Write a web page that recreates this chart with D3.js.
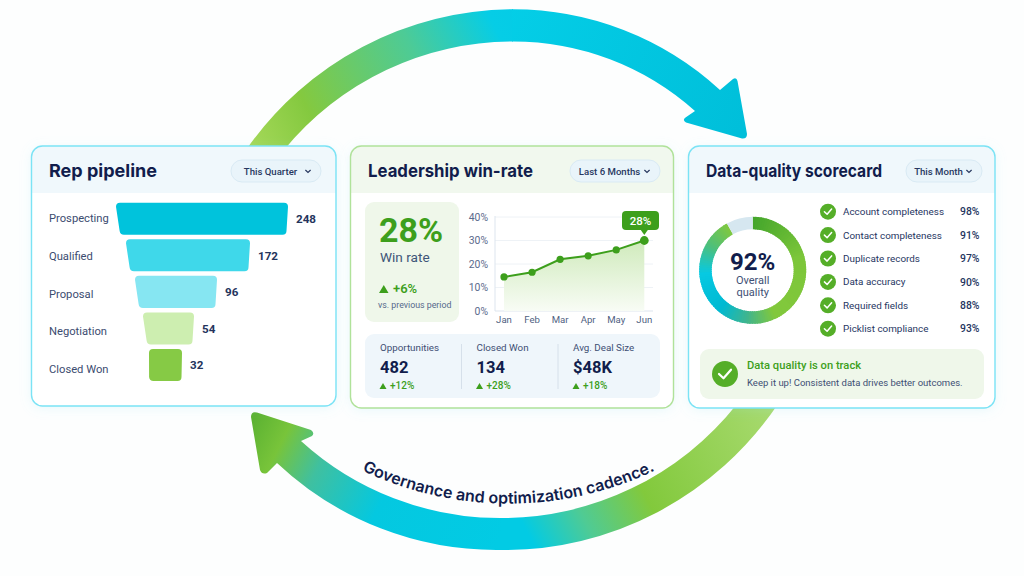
<!DOCTYPE html>
<html><head><meta charset="utf-8">
<script src="https://cdn.jsdelivr.net/npm/d3@7"></script>
<style>
html,body{margin:0;padding:0;background:#fdfefe;overflow:hidden}
text{font-family:Roboto,"Noto Sans",sans-serif}
text.inter,text.inter textPath{font-family:Inter,"Noto Sans",sans-serif}
</style></head><body>
<svg id="c" width="1024" height="576" viewBox="0 0 1024 576"></svg>
<script>
// ---- data ----
const stages = ["Prospecting","Qualified","Proposal","Negotiation","Closed Won"];
const stageValues = [248,172,96,54,32];
const stageColors = ["#00c3dc","#3fd8ea","#86e6f2","#cdeeb0","#86ca45"];
const months = ["Jan","Feb","Mar","Apr","May","Jun"];
const winRate = [14.5,16.5,22,23.5,26,30];
const winTicks = [0,10,20,30,40];
const statLabels = ["Opportunities","Closed Won","Avg. Deal Size"];
const statValues = ["482","134","$48K"];
const statDeltas = ["+12%","+28%","+18%"];
const qualityLabels = ["Account completeness","Contact completeness","Duplicate records","Data accuracy","Required fields","Picklist compliance"];
const qualityValues = [98,91,97,90,88,93];
const overallQuality = 92;
const ringStops = [0,.22,.46,.56,.66,.8,.9,1];
const ringColors = ["#45a62c","#7cc63a","#82c83c","#3fb58e","#00b9d2","#07c9e2","#4dbf7c","#82c83c"];

// ---- helpers ----
const svg = d3.select("#c");
const defs = svg.append("defs");
const NAVY="#111d4c", SLATE="#3c4c70", GREEN="#3d9f1c";
function grad(id,x1,y1,x2,y2,stops){
  const g=defs.append("linearGradient").attr("id",id).attr("gradientUnits","userSpaceOnUse")
    .attr("x1",x1).attr("y1",y1).attr("x2",x2).attr("y2",y2);
  stops.forEach(s=>g.append("stop").attr("offset",s[0]).attr("stop-color",s[1]));
}
function txt(p,x,y,s,size,weight,fill,anchor){
  return p.append("text").attr("x",x).attr("y",y).attr("font-size",size).attr("font-weight",weight)
    .attr("fill",fill).attr("text-anchor",anchor||"start").text(s);
}
function tri(p,x,y,w,h){
  const path=d3.path();path.moveTo(x,y);path.lineTo(x+w/2,y-h);path.lineTo(x+w,y);path.closePath();
  p.append("path").attr("d",path.toString()).attr("fill",GREEN);
}
function tick(p,cx,cy,s,w){
  const path=d3.path();path.moveTo(cx-s,cy);path.lineTo(cx-s*.25,cy+s*.72);path.lineTo(cx+s,cy-s*.72);
  p.append("path").attr("d",path.toString()).attr("fill","none").attr("stroke","#fff").attr("stroke-width",w).attr("stroke-linecap","round").attr("stroke-linejoin","round");
}
const glow=defs.append("filter").attr("id","glow").attr("x","-10%").attr("y","-10%").attr("width","120%").attr("height","120%");
glow.append("feDropShadow").attr("dx",0).attr("dy",2).attr("stdDeviation",6).attr("flood-color","#8fdff0").attr("flood-opacity",.2);

// ---- cycle arrows ----
grad("gTop",252,146,520,10,[[0,"#a4d858"],[.22,"#84c93f"],[.62,"#4dcb96"],[.9,"#06cde6"],[1,"#04cce6"]]);
grad("gTop2",500,20,740,130,[[0,"#04cee7"],[1,"#00bfda"]]);
grad("gBot",778,400,526,530,[[0,"#aadb72"],[.57,"#82c93c"],[.8,"#4fcb94"],[1,"#02cbe4"]]);
grad("gBot2",501,540,255,415,[[0,"#02cbe4"],[.45,"#04c8e0"],[.71,"#3fc0a0"],[.87,"#78c43a"],[1,"#5cb232"]]);
const arrows=svg.append("g");
arrows.append("path").attr("fill","url(#gTop)")
  .attr("d","M246 150 A327 327 0 0 1 513 9.3 L513 41.4 A296 296 0 0 0 284 150 Z");
arrows.append("path").attr("fill","url(#gTop2)")
  .attr("d","M512 9.3 A306 306 0 0 1 720 90 L733 79 Q736.5 77 737.5 81 L747 134 Q747 139 742 138.5 L686 122.5 Q682 120 685.5 117.5 L695 111 A273 273 0 0 0 512 41.4 Z");
arrows.append("path").attr("fill","url(#gBot)")
  .attr("d","M778 404 A330 330 0 0 1 500 550 L500 518 A300 300 0 0 0 737 404 Z");
arrows.append("path").attr("fill","url(#gBot2)")
  .attr("d","M501 550 A320 320 0 0 1 277 463 L267 473 Q262 475 260 470 L251 417 Q251 411 257 412.5 L311 430 Q315 433 312 436 L301 441 A295 295 0 0 0 501 518 Z");
defs.append("path").attr("id","curve").attr("d","M357 468 A340 340 0 0 0 660 468");
svg.append("text").attr("class","inter").attr("font-size",16).attr("font-weight",600).attr("fill",NAVY)
  .append("textPath").attr("href","#curve").attr("startOffset","50%").attr("text-anchor","middle").text("Governance and optimization cadence.");

// ---- cards ----
function card(x,y,w,h,stroke,head,title,titleW,pill,pillX,pillW){
  const g=svg.append("g");
  g.append("rect").attr("x",x).attr("y",y).attr("width",w).attr("height",h).attr("rx",11).attr("fill","#fff").attr("filter","url(#glow)");
  const id="clip"+x;
  defs.append("clipPath").attr("id",id).append("rect").attr("x",x).attr("y",y).attr("width",w).attr("height",h).attr("rx",11);
  g.append("rect").attr("x",x).attr("y",y).attr("width",w).attr("height",47).attr("fill",head).attr("clip-path",`url(#${id})`);
  g.append("rect").attr("x",x).attr("y",y).attr("width",w).attr("height",h).attr("rx",11).attr("fill","none").attr("stroke",stroke).attr("stroke-width",1.4);
  txt(g,x+17.5,177,title,18,700,NAVY).attr("class","inter").attr("textLength",titleW).attr("lengthAdjust","spacingAndGlyphs");
  g.append("rect").attr("x",pillX).attr("y",160).attr("width",pillW).attr("height",22).attr("rx",11).attr("fill","#e9f4fa").attr("stroke","#d9eaf4");
  txt(g,pillX+pillW/2-5.5,174.5,pill,9.6,500,"#27375f","middle");
  const ch=d3.path();const cx=pillX+pillW-13;ch.moveTo(cx-2.6,170);ch.lineTo(cx,172.4);ch.lineTo(cx+2.6,170);
  g.append("path").attr("d",ch.toString()).attr("fill","none").attr("stroke","#27375f").attr("stroke-width",1.2);
  return g;
}
const c1=card(31.5,146,304.5,260,"#7be3f5","#f0f8fc","Rep pipeline",108,"This Quarter",231,90);
const c2=card(350.5,146,323,262,"#b0e29a","#f1f8ee","Leadership win-rate",165,"Last 6 Months",570,90);
const c3=card(688.5,146,306.5,262,"#7be3f5","#f0f8fc","Data-quality scorecard",176,"This Month",906,76);

// ---- funnel ----
const fy=d3.scaleBand().domain(stages).range([202.7,381]).paddingInner(.123).paddingOuter(0);
const labelY=d3.scalePoint().domain(stages).range([218,369]);
const fLeft=d3.scaleLinear().domain([32,54,96,172,248]).range([149,143,135,126,116]);
const fRight=d3.scaleLinear().domain([32,54,96,172,248]).range([182,194,217,250,288]);
stages.forEach((s,i)=>{
  const v=stageValues[i],t=fy(s),h=fy.bandwidth(),l=fLeft(v),r=fRight(v);
  const il=i==4?0.5:4,ir=i==4?0.5:1.5,rd=4;
  const p=d3.path();
  p.moveTo(l+rd,t);p.lineTo(r-rd,t);p.quadraticCurveTo(r,t,r,t+rd);
  p.lineTo(r-ir,t+h-rd);p.quadraticCurveTo(r-ir,t+h,r-ir-rd,t+h);
  p.lineTo(l+il+rd,t+h);p.quadraticCurveTo(l+il,t+h,l+il-.4,t+h-rd);
  p.lineTo(l,t+rd);p.quadraticCurveTo(l,t,l+rd,t);p.closePath();
  c1.append("path").attr("d",p.toString()).attr("fill",stageColors[i]);
  txt(c1,49,labelY(s)+4,s,11.2,400,SLATE);
  txt(c1,r+8,t+20.5,String(v),11.6,700,"#24345c");
});

// ---- win rate panel ----
c2.append("rect").attr("x",365).attr("y",202).attr("width",94).attr("height",120).attr("rx",9).attr("fill","#eff7ea");
txt(c2,379,241.5,"28%",34,700,GREEN);
txt(c2,380,262,"Win rate",13.6,400,"#3e5578");
tri(c2,379,293,9.5,8);
txt(c2,393,293,"+6%",13,600,GREEN);
txt(c2,378,307.5,"vs. previous period",8.8,400,"#55688a");

// ---- line chart ----
const lx=d3.scalePoint().domain(months).range([504,644.3]);
const ly=d3.scaleLinear().domain([0,40]).range([311,217]);
winTicks.forEach(t=>{
  if(t>0) c2.append("line").attr("x1",495).attr("x2",653).attr("y1",ly(t)).attr("y2",ly(t)).attr("stroke","#eef2f6");
  txt(c2,488,ly(t)+3.5,t+"%",10.4,400,"#5a6a8c","end");
});
c2.append("line").attr("x1",495).attr("x2",495).attr("y1",216).attr("y2",311).attr("stroke","#dde5ee");
c2.append("line").attr("x1",495).attr("x2",653).attr("y1",311).attr("y2",311).attr("stroke","#dde5ee");
months.forEach(m=>txt(c2,lx(m),323,m,9.6,400,"#4f5f82","middle"));
grad("gArea",0,240,0,311,[[0,"#cfeabb"],[1,"#f8fcf5"]]);
c2.append("path").attr("fill","url(#gArea)").attr("d",d3.area().x((d,i)=>lx(months[i])).y0(ly(0)).y1(d=>ly(d))(winRate));
c2.append("path").attr("fill","none").attr("stroke",GREEN).attr("stroke-width",2).attr("d",d3.line().x((d,i)=>lx(months[i])).y(d=>ly(d))(winRate));
winRate.forEach((d,i)=>c2.append("circle").attr("cx",lx(months[i])).attr("cy",ly(d)).attr("r",i==5?4.4:3.6).attr("fill",GREEN));
const jx=lx("Jun");
c2.append("rect").attr("x",622).attr("y",211).attr("width",37).attr("height",19).attr("rx",4).attr("fill",GREEN);
const ptr=d3.path();ptr.moveTo(jx-3.5,230);ptr.lineTo(jx,235);ptr.lineTo(jx+3.5,230);ptr.closePath();
c2.append("path").attr("d",ptr.toString()).attr("fill",GREEN);
txt(c2,640.5,224.5,"28%",11.5,500,"#fff","middle");

// ---- stats strip ----
c2.append("rect").attr("x",365).attr("y",334).attr("width",295).attr("height",64).attr("rx",9).attr("fill","#eff6fb");
[461.5,558].forEach(x=>c2.append("line").attr("x1",x).attr("x2",x).attr("y1",344).attr("y2",389).attr("stroke","#d6e0ea"));
const statX=d3.scalePoint().domain(statLabels).range([380,573]);
statLabels.forEach((s,i)=>{
  const x=statX(s);
  txt(c2,x,351,s,9.8,400,"#3e4f74");
  txt(c2,x,372.5,statValues[i],16.5,700,NAVY);
  tri(c2,x-.5,389,7,6);
  txt(c2,x+10,389,statDeltas[i],10,500,GREEN);
});

// ---- donut ----
const dg=c3.append("g").attr("transform","translate(752.7,270.3)");
const ringColor=d3.scaleLinear().domain(ringStops).range(ringColors).interpolate(d3.interpolateRgb);
const arc=d3.arc().innerRadius(41).outerRadius(53.5);
const filled=overallQuality/100*2*Math.PI;
d3.range(0,120).forEach(i=>{
  const a0=filled*i/120,a1=filled*(i+1)/120+.03;
  dg.append("path").attr("d",arc({startAngle:a0,endAngle:Math.min(a1,filled)})).attr("fill",ringColor(i/120));
});
dg.append("path").attr("d",arc({startAngle:filled,endAngle:2*Math.PI})).attr("fill","#d6e7f0");
txt(dg,0,-.5,overallQuality+"%",24,700,NAVY,"middle");
txt(dg,0,14,"Overall",11,400,"#3e4f74","middle");
txt(dg,0,26,"quality",11,400,"#3e4f74","middle");

// ---- checklist ----
const qy=d3.scalePoint().domain(qualityLabels).range([211.7,328.7]);
qualityLabels.forEach((s,i)=>{
  const y=qy(s);
  c3.append("circle").attr("cx",828).attr("cy",y).attr("r",8).attr("fill","#55ae28");
  tick(c3,828,y,3.6,1.5);
  txt(c3,843,y+3.5,s,9.9,400,"#26365f");
  txt(c3,979.5,y+3.6,qualityValues[i]+"%",10.4,500,"#26365f","end");
});
c3.append("rect").attr("x",700).attr("y",349).attr("width",284).attr("height",50).attr("rx",9).attr("fill","#eff7ea");
c3.append("circle").attr("cx",725).attr("cy",374).attr("r",13).attr("fill","#55ae28");
tick(c3,725,374,6,2.2);
txt(c3,747,369,"Data quality is on track",11.2,500,GREEN);
txt(c3,747,386,"Keep it up! Consistent data drives better outcomes.",9.5,400,"#3e4f74");
</script></body></html>
